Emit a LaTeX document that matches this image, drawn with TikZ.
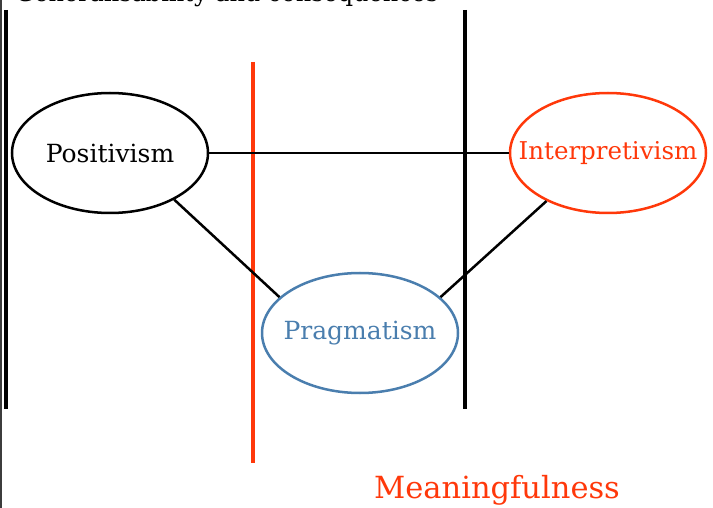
\documentclass[tikz,border=0pt]{standalone}
\usepackage{fontspec}
\setmainfont{DejaVu Serif}
\usetikzlibrary{shapes.geometric}
\definecolor{myred}{RGB}{255,56,10}
\definecolor{myblue}{RGB}{74,126,174}
\definecolor{edgegray}{RGB}{60,60,60}
\tikzset{
  paradigm/.style={ellipse, line width=2.5pt, minimum width=196pt, minimum height=120pt, inner sep=0pt},
  link/.style={line width=2.5pt, black},
  divider/.style={line width=3.4pt},
}
\newcommand{\zb}[1]{\makebox[0pt]{#1}}
\begin{document}
\begin{tikzpicture}[x=1pt,y=-1pt]
\useasboundingbox (0,0) rectangle (713,508);
\fill[edgegray] (0,0) rectangle (2,508);
\begin{scope}
\clip (0,0) rectangle (713,508);
\node[anchor=base west, font=\fontsize{24}{28}\selectfont, inner sep=0pt] (title) at (15,2) {Generalisability and consequences};
\end{scope}
% dividers
\coordinate (lt) at (6,10); \coordinate (lb) at (6,409);
\coordinate (rt) at (465,10); \coordinate (rb) at (465,409);
\coordinate (mt) at (253,62); \coordinate (mb) at (253,463);
\draw[divider, black] (lt) -- (lb);
\draw[divider, black] (rt) -- (rb);
\draw[divider, myred] (mt) -- (mb);
% nodes
\node[paradigm, draw=black, font=\fontsize{25}{30}\selectfont] (pos) at (110,153) {\zb{Positivism}};
\node[paradigm, draw=myred, text=myred, font=\fontsize{24.5}{30}\selectfont] (int) at (608,153) {\zb{Interpretivism}};
\node[paradigm, draw=myblue, text=myblue, font=\fontsize{25}{30}\selectfont] (prag) at (360,333) {\zb{Pragmatism}};
% links
\draw[link] (pos.east) -- (int.west);
\draw[link] (pos.-36.6) -- (prag.156);
\draw[link] (prag.24.6) -- (int.-142.5);
\node[text=myred, font=\fontsize{30.5}{36}\selectfont] (mean) at (497,490) {Meaningfulness};
\end{tikzpicture}
\end{document}
